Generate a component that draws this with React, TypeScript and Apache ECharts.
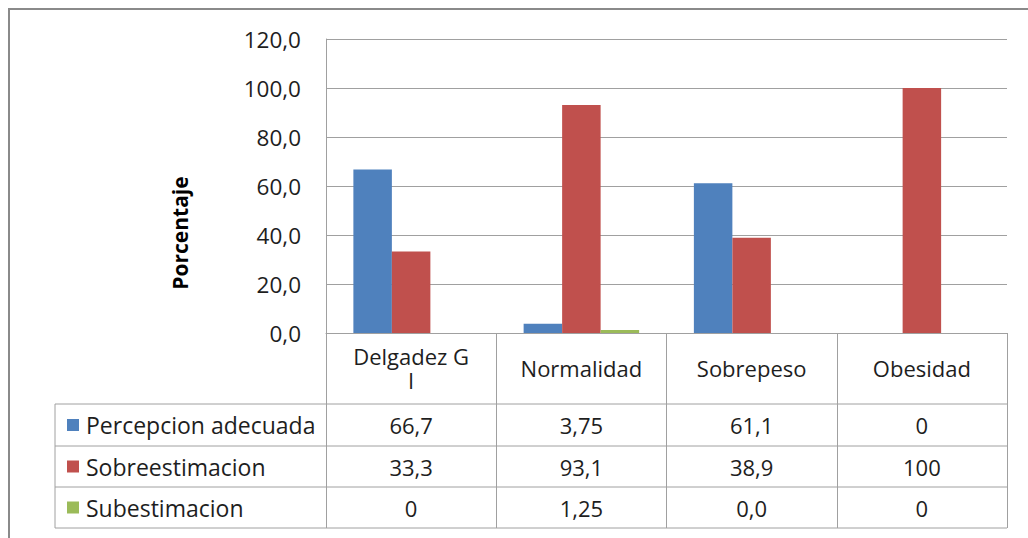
import React, { useEffect, useRef } from "react";
import * as echarts from "echarts";

const categories = ["Delgadez G I", "Normalidad", "Sobrepeso", "Obesidad"];
const categoryLabels = ["Delgadez G\nI", "Normalidad", "Sobrepeso", "Obesidad"];
const seriesNames = ["Percepcion adecuada", "Sobreestimacion", "Subestimacion"];
const percepcionAdecuada = [66.7, 3.75, 61.1, 0];
const sobreestimacion = [33.3, 93.1, 38.9, 100];
const subestimacion = [0, 1.25, 0, 0];
const tableLabels = [
  ["66,7", "3,75", "61,1", "0"],
  ["33,3", "93,1", "38,9", "100"],
  ["0", "1,25", "0,0", "0"],
];
const yAxisTitle = "Porcentaje";
const colors = ["#4F81BD", "#C0504D", "#9BBB59"];

const FONT = "'Open Sans', sans-serif";
const TEXT = "#1e1e1e";
const LINE = "#a0a0a0";

export default function App() {
  const ref = useRef<HTMLDivElement>(null);
  useEffect(() => {
    if (!ref.current) return;
    const chart = echarts.init(ref.current, null, { renderer: "svg" });
    const gridLeft = 326;
    const gridTop = 39;
    const gridWidth = 681;
    const gridBottomY = 333;
    const rowLines = [404, 446, 487, 528];
    const tableLeft = 55;
    const seriesData = [percepcionAdecuada, sobreestimacion, subestimacion];

    chart.setOption({
      animation: false,
      textStyle: { fontFamily: FONT },
      grid: { left: gridLeft, top: gridTop, width: gridWidth, bottom: 538 - gridBottomY, containLabel: false },
      xAxis: {
        type: "category",
        data: categories,
        axisLine: { show: true, lineStyle: { color: LINE, width: 1 } },
        axisTick: { show: true, length: rowLines[3] - gridBottomY, lineStyle: { color: LINE, width: 1 } },
        axisLabel: {
          margin: 35,
          verticalAlign: "middle",
          lineHeight: 24,
          fontSize: 22,
          color: TEXT,
          fontFamily: FONT,
          formatter: (_v: string, i: number) => categoryLabels[i],
        },
      },
      yAxis: {
        type: "value",
        min: 0,
        max: 120,
        interval: 20,
        axisLine: { show: true, lineStyle: { color: LINE, width: 1 } },
        axisTick: { show: false },
        splitLine: { show: true, lineStyle: { color: LINE, width: 1 } },
        axisLabel: {
          margin: 25,
          fontSize: 22.5,
          color: TEXT,
          fontFamily: FONT,
          formatter: (v: number) => v.toFixed(1).replace(".", ","),
        },
      },
      series: seriesNames.map((name, i) => ({
        name,
        type: "bar",
        data: seriesData[i],
        barWidth: 38.5,
        barGap: "0%",
        itemStyle: { color: colors[i] },
      })),
    });

    const xs = categories.map((c) => chart.convertToPixel({ xAxisIndex: 0 }, c) as number);
    const graphic: any[] = [];
    graphic.push({
      type: "rect",
      silent: true,
      shape: { x: 9, y: 9, width: 1040, height: 560 },
      style: { fill: "none", stroke: "#8a8a8a", lineWidth: 2 },
    });
    rowLines.forEach((y) => {
      graphic.push({
        type: "line",
        silent: true,
        shape: { x1: tableLeft, y1: y, x2: gridLeft + gridWidth, y2: y },
        style: { stroke: LINE, lineWidth: 1 },
      });
    });
    graphic.push({
      type: "line",
      silent: true,
      shape: { x1: tableLeft, y1: rowLines[0], x2: tableLeft, y2: rowLines[3] },
      style: { stroke: LINE, lineWidth: 1 },
    });
    seriesNames.forEach((name, r) => {
      const cy = (rowLines[r] + rowLines[r + 1]) / 2;
      graphic.push({
        type: "rect",
        silent: true,
        shape: { x: 67, y: cy - 6, width: 12, height: 12 },
        style: { fill: colors[r] },
      });
      graphic.push({
        type: "text",
        silent: true,
        x: 86,
        y: cy,
        style: { text: name, fill: TEXT, font: `23px ${FONT}`, verticalAlign: "middle", align: "left" },
      });
      tableLabels[r].forEach((t, c) => {
        graphic.push({
          type: "text",
          silent: true,
          x: xs[c],
          y: cy,
          style: { text: t, fill: TEXT, font: `22px ${FONT}`, verticalAlign: "middle", align: "center" },
        });
      });
    });
    graphic.push({
      type: "text",
      silent: true,
      x: 180,
      y: 233,
      rotation: Math.PI / 2,
      style: { text: yAxisTitle, fill: "#000", font: `bold 21px ${FONT}`, align: "center", verticalAlign: "middle" },
    });
    chart.setOption({ graphic });

    return () => chart.dispose();
  }, []);
  return <div ref={ref} style={{ position: "fixed", left: 0, top: 0, width: 1028, height: 538, background: "#fff" }} />;
}
